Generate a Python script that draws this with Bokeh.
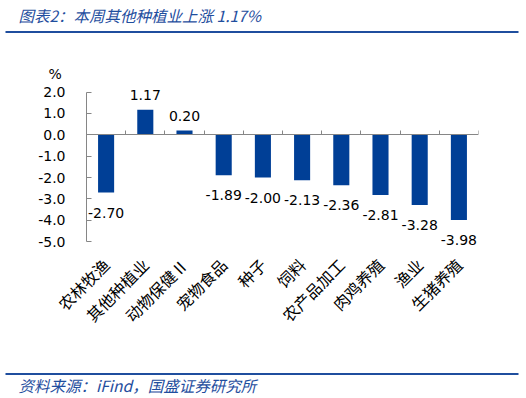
import math
from bokeh.plotting import figure
from bokeh.models import (FixedTicker, LinearAxis, Label, Range1d,
                          NumeralTickFormatter)
from bokeh.layouts import column
from bokeh.core.properties import value
from bokeh.embed import file_html
from bokeh.resources import INLINE

# ---- data ----
categories = ["农林牧渔", "其他种植业", "动物保健Ⅱ", "宠物食品", "种子", "饲料",
              "农产品加工", "肉鸡养殖", "渔业", "生猪养殖"]
changes = [-2.70, 1.17, 0.20, -1.89, -2.00, -2.13, -2.36, -2.81, -3.28, -3.98]
y_ticks = [-5, -4, -3, -2, -1, 0, 1, 2]
title_text = "图表2：本周其他种植业上涨 1.17%"
source_text = "资料来源：iFind，国盛证券研究所"
unit_text = "%"

BLUE = "#1F4E9E"
BAR = "#003F96"
GRAY = "#868686"
W = 526

# ---- header ----
HH = 38
head = figure(width=W, height=HH, x_range=Range1d(0, W), y_range=Range1d(0, HH),
              x_axis_type=None, y_axis_type=None, toolbar_location=None,
              output_backend="svg", min_border=0, outline_line_color=None,
              frame_align=False)
head.title.visible = False
head.grid.visible = False
head.add_layout(Label(x=18, y=HH - 14, text=title_text, text_font="Noto Sans CJK SC",
                      text_font_size="15.5px", text_font_style="italic",
                      text_color=BLUE, text_baseline="middle", text_align="left"))
head.segment(x0=[5], y0=[HH - 31.5], x1=[518], y1=[HH - 31.5],
             line_color=BLUE, line_width=2)

# ---- main chart ----
MH = 300
FRAME_H = 172
n = len(categories)
xs = [i + 0.5 for i in range(n)]
p = figure(width=W, height=MH, x_range=Range1d(0, n), y_range=Range1d(-5.6, 2.45),
           toolbar_location=None, output_backend="svg",
           min_border_left=86, min_border_right=48, min_border_top=44,
           min_border_bottom=MH - 44 - FRAME_H, outline_line_color=None,
           frame_align=False)
p.grid.visible = False

# "%" unit shown as the figure's title, above the y axis
p.title.text = unit_text
p.title.align = "left"
p.title.offset = -38
p.title.standoff = 1
p.title.text_font = "DejaVu Sans"
p.title.text_font_size = "14px"
p.title.text_font_style = "normal"
p.title.text_color = "black"

p.vbar(x=xs, top=changes, bottom=0, width=0.41, fill_color=BAR, line_color=None)

pos_x = [x for x, v in zip(xs, changes) if v >= 0]
pos_y = [v for v in changes if v >= 0]
neg_x = [x for x, v in zip(xs, changes) if v < 0]
neg_y = [v for v in changes if v < 0]
p.text(x=pos_x, y=pos_y, text=["%.2f" % v for v in pos_y], text_align="center",
       text_baseline="bottom", y_offset=-10, text_font=value("DejaVu Sans"),
       text_font_size="14px", text_color="black")
p.text(x=neg_x, y=neg_y, text=["%.2f" % v for v in neg_y], text_align="center",
       text_baseline="top", y_offset=15, text_font=value("DejaVu Sans"),
       text_font_size="14px", text_color="black")

# category label axis (bottom)
xa = p.xaxis[0]
xa.ticker = FixedTicker(ticks=xs)
xa.major_label_overrides = {x: c for x, c in zip(xs, categories)}
xa.major_label_orientation = math.pi / 4
xa.axis_line_color = None
xa.major_tick_line_color = None
xa.minor_tick_line_color = None
xa.major_tick_out = 0
xa.major_tick_in = 0
xa.minor_tick_out = 0
xa.minor_tick_in = 0
xa.major_label_standoff = 7
xa.major_label_text_font = "Noto Sans CJK SC"
xa.major_label_text_font_size = "16px"
xa.major_label_text_color = "black"

# zero line axis with category-boundary tick marks (minor ticks, no labels)
zero_axis = LinearAxis(fixed_location=0,
                       ticker=FixedTicker(ticks=[], minor_ticks=list(range(n + 1))),
                       major_tick_line_color=None, major_tick_in=0, major_tick_out=0,
                       minor_tick_in=4, minor_tick_out=0, axis_line_color=GRAY,
                       minor_tick_line_color=GRAY, major_label_standoff=0)
p.add_layout(zero_axis, "below")

ya = p.yaxis[0]
ya.ticker = FixedTicker(ticks=y_ticks)
ya.formatter = NumeralTickFormatter(format="0.0")
ya.bounds = (-5, 2)
ya.axis_line_color = GRAY
ya.major_tick_line_color = GRAY
ya.minor_tick_line_color = None
ya.major_tick_in = 5
ya.major_tick_out = 0
ya.major_label_standoff = 21
ya.major_label_text_font = "DejaVu Sans"
ya.major_label_text_font_size = "14px"
ya.major_label_text_color = "black"

# ---- footer ----
FH = 398 - HH - MH
foot = figure(width=W, height=FH, x_range=Range1d(0, W), y_range=Range1d(0, FH),
              x_axis_type=None, y_axis_type=None, toolbar_location=None,
              output_backend="svg", min_border=0, outline_line_color=None,
              frame_align=False)
foot.title.visible = False
foot.grid.visible = False
top_page = HH + MH
foot.segment(x0=[5], y0=[FH - (373.5 - top_page)], x1=[518], y1=[FH - (373.5 - top_page)],
             line_color=BLUE, line_width=2)
foot.add_layout(Label(x=18, y=FH - (384 - top_page), text=source_text,
                      text_font="Noto Sans CJK SC",
                      text_font_size="15.5px", text_font_style="italic",
                      text_color=BLUE, text_baseline="middle", text_align="left"))

layout = column(head, p, foot, spacing=0)
open("out.html", "w").write(file_html(layout, INLINE))
